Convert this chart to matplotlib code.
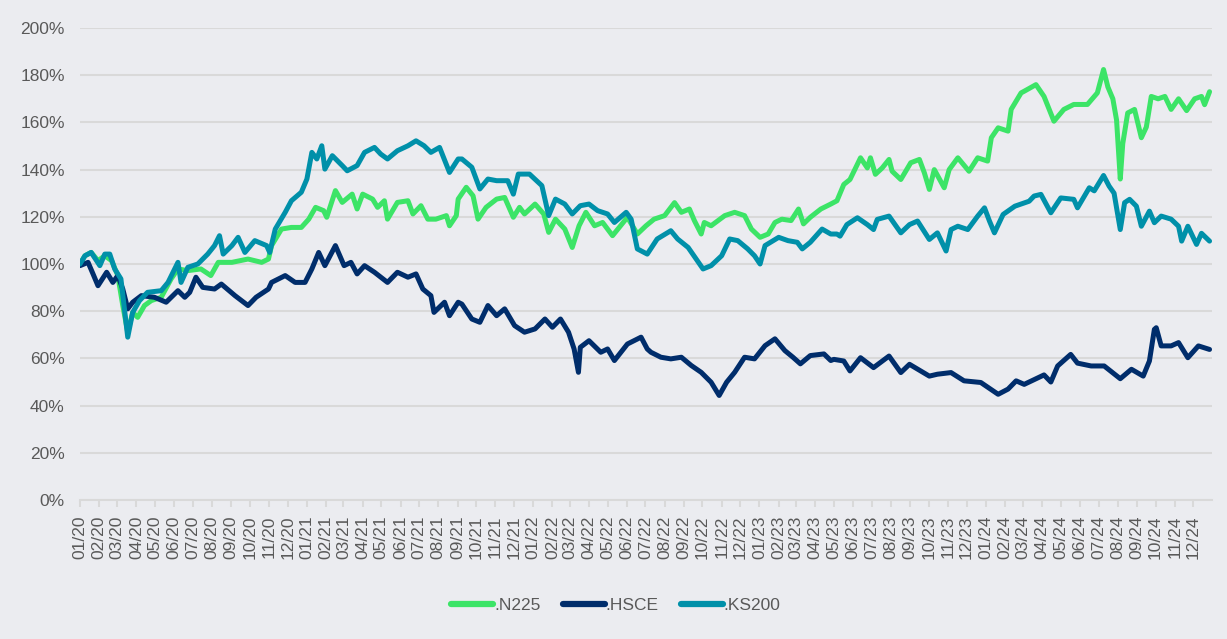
import matplotlib
matplotlib.use("Agg")
import matplotlib.pyplot as plt
import matplotlib.dates as mdates
import pandas as pd
from matplotlib.ticker import FuncFormatter

# values (index level, 100% = 01/2020)
n225_dates = ['2020-01-01', '2020-01-09', '2020-01-19', '2020-01-30', '2020-02-10', '2020-02-21', '2020-03-02',
              '2020-03-10', '2020-03-18', '2020-03-26', '2020-04-03', '2020-04-14', '2020-04-25', '2020-05-11',
              '2020-05-27', '2020-06-07', '2020-06-23', '2020-07-14', '2020-07-30', '2020-08-11', '2020-09-02',
              '2020-09-28', '2020-10-20', '2020-10-31', '2020-11-05', '2020-11-21', '2020-12-07', '2020-12-23',
              '2021-01-04', '2021-01-15', '2021-01-28', '2021-02-02', '2021-02-16', '2021-02-27', '2021-03-15',
              '2021-03-23', '2021-04-01', '2021-04-17', '2021-04-25', '2021-05-06', '2021-05-11', '2021-05-27',
              '2021-06-13', '2021-06-21', '2021-07-04', '2021-07-15', '2021-07-28', '2021-08-14', '2021-08-19',
              '2021-08-30', '2021-09-02', '2021-09-15', '2021-09-26', '2021-10-04', '2021-10-17', '2021-11-03',
              '2021-11-16', '2021-11-30', '2021-12-10', '2021-12-18', '2022-01-04', '2022-01-18', '2022-01-26',
              '2022-02-06', '2022-02-21', '2022-03-05', '2022-03-16', '2022-03-27', '2022-04-10', '2022-04-23',
              '2022-05-09', '2022-05-22', '2022-06-02', '2022-06-18', '2022-07-02', '2022-07-15', '2022-08-01',
              '2022-08-17', '2022-08-28', '2022-09-10', '2022-09-18', '2022-09-29', '2022-10-04', '2022-10-15',
              '2022-11-06', '2022-11-22', '2022-12-08', '2022-12-19', '2023-01-02', '2023-01-15', '2023-01-26',
              '2023-02-06', '2023-02-21', '2023-03-05', '2023-03-13', '2023-03-24', '2023-04-10', '2023-04-26',
              '2023-05-06', '2023-05-17', '2023-05-27', '2023-06-13', '2023-06-24', '2023-06-29', '2023-07-07',
              '2023-07-18', '2023-07-29', '2023-08-03', '2023-08-17', '2023-09-02', '2023-09-16', '2023-09-24',
              '2023-10-02', '2023-10-10', '2023-10-26', '2023-11-03', '2023-11-17', '2023-12-05', '2023-12-19',
              '2024-01-04', '2024-01-10', '2024-01-21', '2024-02-06', '2024-02-11', '2024-02-27', '2024-03-03',
              '2024-03-22', '2024-04-04', '2024-04-20', '2024-05-06', '2024-05-22', '2024-06-13', '2024-06-29',
              '2024-07-09', '2024-07-16', '2024-07-24', '2024-07-30', '2024-08-05', '2024-08-09', '2024-08-17',
              '2024-08-28', '2024-09-08', '2024-09-16', '2024-09-24', '2024-10-05', '2024-10-16', '2024-10-26',
              '2024-11-07', '2024-11-20', '2024-12-03', '2024-12-14', '2024-12-19', '2024-12-27']
n225 = [100, 103.5, 104.9, 101.4, 103.5, 101.4, 95.1,
        82.4, 71.1, 79.5, 77.4, 82.4, 84.5, 85.9,
        93.7, 97.9, 97.2, 97.9, 95.1, 100.7, 100.7,
        102.1, 100.7, 102.1, 107.8, 114.8, 115.5, 115.5,
        119, 124, 122.6, 119.8, 131.1, 126.1, 129.6,
        123.3, 129.6, 127.5, 124, 126.8, 119, 126.1,
        126.8, 121.2, 124.7, 119, 119, 120.5, 116.2,
        120.5, 127.5, 132.5, 128.9, 119, 124, 127.5,
        128.2, 119.8, 124, 121.2, 125.4, 121.2, 113.4,
        119, 114.8, 107, 116.2, 121.9, 116.2, 117.6,
        112, 116.2, 119.8, 112.7, 116.2, 119, 120.5,
        126, 121.9, 123.3, 118.4, 112.7, 117.6, 116.2,
        120.5, 121.9, 120.5, 114.8, 111.3, 112.7, 117.6,
        119, 118.4, 123.3, 117, 119.8, 123.3, 125.4,
        126.8, 133.7, 135.8, 145, 140.7, 145, 138,
        140.7, 144.3, 139.3, 135.8, 142.9, 144.3, 138.6,
        131.6, 140, 132.3, 140, 145, 139.3, 145,
        143.6, 153.5, 157.7, 156.3, 165.5, 172.5, 173.2,
        176, 171, 160.5, 165.5, 167.6, 167.6, 172.5,
        182.4, 175, 170, 161, 136, 151, 164,
        165.5, 153.5, 158, 171, 170, 171, 165.5,
        170, 165, 170, 171, 167.5, 173]

hsce_dates = ['2020-01-01', '2020-01-14', '2020-01-22', '2020-01-30', '2020-02-13', '2020-02-23', '2020-03-02',
              '2020-03-10', '2020-03-18', '2020-03-26', '2020-04-09', '2020-04-30', '2020-05-19', '2020-06-07',
              '2020-06-18', '2020-06-26', '2020-07-06', '2020-07-17', '2020-08-05', '2020-08-16', '2020-09-07',
              '2020-09-28', '2020-10-11', '2020-10-31', '2020-11-05', '2020-11-27', '2020-12-13', '2020-12-29',
              '2021-01-09', '2021-01-20', '2021-01-30', '2021-02-16', '2021-03-02', '2021-03-13', '2021-03-23',
              '2021-04-04', '2021-04-20', '2021-05-11', '2021-05-27', '2021-06-13', '2021-06-26', '2021-07-07',
              '2021-07-20', '2021-07-25', '2021-08-11', '2021-08-19', '2021-09-02', '2021-09-08', '2021-09-24',
              '2021-10-07', '2021-10-20', '2021-11-03', '2021-11-16', '2021-12-02', '2021-12-18', '2022-01-04',
              '2022-01-20', '2022-02-01', '2022-02-14', '2022-02-27', '2022-03-08', '2022-03-15', '2022-03-18',
              '2022-04-01', '2022-04-20', '2022-05-01', '2022-05-12', '2022-06-02', '2022-06-24', '2022-07-04',
              '2022-07-10', '2022-07-26', '2022-08-11', '2022-08-28', '2022-09-13', '2022-09-29', '2022-10-15',
              '2022-10-28', '2022-11-09', '2022-11-22', '2022-12-08', '2022-12-24', '2023-01-10', '2023-01-26',
              '2023-02-11', '2023-02-24', '2023-03-08', '2023-03-24', '2023-04-15', '2023-04-26', '2023-05-01',
              '2023-05-17', '2023-05-27', '2023-06-13', '2023-07-04', '2023-07-29', '2023-08-17', '2023-08-31',
              '2023-10-02', '2023-10-15', '2023-11-06', '2023-11-27', '2023-12-24', '2024-01-21', '2024-02-06',
              '2024-02-19', '2024-03-03', '2024-03-19', '2024-04-04', '2024-04-15', '2024-04-26', '2024-05-17',
              '2024-05-28', '2024-06-19', '2024-07-10', '2024-08-05', '2024-08-23', '2024-09-11', '2024-09-21',
              '2024-09-29', '2024-10-02', '2024-10-10', '2024-10-26', '2024-11-07', '2024-11-22', '2024-12-09',
              '2024-12-27']
hsce = [99.3, 100.7, 95.8, 90.8, 96.5, 92.2, 95.1,
        89.4, 81, 83.8, 86.6, 85.9, 83.8, 88.7,
        85.9, 88, 94.4, 90.1, 89.4, 91.5, 86.6,
        82.4, 85.9, 89.4, 92.2, 95.1, 92.2, 92.2,
        97.9, 104.9, 99.3, 107.8, 99.3, 100.7, 95.8,
        99.3, 96.5, 92.2, 96.5, 94.4, 95.8, 89.4,
        86.6, 79.5, 83.8, 78.1, 83.8, 83, 76.7,
        75.3, 82.4, 78.1, 81, 73.9, 71.1, 72.5,
        76.7, 73.2, 76.7, 71.1, 64, 54.1, 64.7,
        67.5, 62.6, 64, 59.1, 66.1, 69, 64,
        62.6, 60.5, 59.8, 60.5, 57, 54.1, 49.9,
        44.3, 49.9, 54.1, 60.5, 59.8, 65.4, 68.3,
        63.3, 60.5, 57.7, 61.2, 61.9, 59.1, 59.6,
        58.9, 54.7, 60.3, 56.1, 61, 54, 57.5,
        52.5, 53.3, 54, 50.5, 49.8, 44.8, 47,
        50.5, 49, 51, 53, 50, 56.8, 61.7,
        58, 56.8, 56.8, 51.4, 55.4, 52.5, 58.9,
        72.3, 73, 65.3, 65.3, 66.7, 60.3, 65.3,
        63.8]

ks200_dates = ['2020-01-01', '2020-01-09', '2020-01-19', '2020-02-02', '2020-02-10', '2020-02-18', '2020-02-26',
               '2020-03-07', '2020-03-18', '2020-03-26', '2020-04-06', '2020-04-19', '2020-05-11', '2020-05-22',
               '2020-06-07', '2020-06-12', '2020-06-23', '2020-07-09', '2020-07-25', '2020-08-05', '2020-08-13',
               '2020-08-19', '2020-09-02', '2020-09-12', '2020-09-23', '2020-10-09', '2020-10-28', '2020-11-02',
               '2020-11-11', '2020-11-27', '2020-12-07', '2020-12-23', '2021-01-01', '2021-01-09', '2021-01-17',
               '2021-01-25', '2021-01-30', '2021-02-11', '2021-02-27', '2021-03-07', '2021-03-23', '2021-04-04',
               '2021-04-20', '2021-04-30', '2021-05-11', '2021-05-27', '2021-06-13', '2021-06-26', '2021-07-09',
               '2021-07-20', '2021-08-03', '2021-08-19', '2021-09-02', '2021-09-08', '2021-09-24', '2021-10-07',
               '2021-10-20', '2021-11-03', '2021-11-21', '2021-11-30', '2021-12-08', '2021-12-26', '2022-01-15',
               '2022-01-26', '2022-02-06', '2022-02-21', '2022-03-05', '2022-03-18', '2022-04-01', '2022-04-15',
               '2022-05-01', '2022-05-12', '2022-05-31', '2022-06-08', '2022-06-18', '2022-07-04', '2022-07-20',
               '2022-08-11', '2022-08-22', '2022-09-08', '2022-09-21', '2022-10-02', '2022-10-15', '2022-11-01',
               '2022-11-14', '2022-11-27', '2022-12-13', '2022-12-24', '2023-01-02', '2023-01-10', '2023-02-01',
               '2023-02-16', '2023-03-03', '2023-03-11', '2023-03-24', '2023-04-12', '2023-04-26', '2023-05-06',
               '2023-05-11', '2023-05-22', '2023-06-08', '2023-06-24', '2023-07-04', '2023-07-10', '2023-07-29',
               '2023-08-17', '2023-08-31', '2023-09-13', '2023-10-02', '2023-10-15', '2023-10-29', '2023-11-06',
               '2023-11-17', '2023-12-03', '2023-12-19', '2023-12-30', '2024-01-07', '2024-01-15', '2024-01-29',
               '2024-02-17', '2024-03-11', '2024-03-19', '2024-03-30', '2024-04-15', '2024-05-01', '2024-05-22',
               '2024-05-28', '2024-06-16', '2024-06-24', '2024-07-09', '2024-07-18', '2024-07-26', '2024-08-05',
               '2024-08-12', '2024-08-20', '2024-08-31', '2024-09-08', '2024-09-21', '2024-09-29', '2024-10-10',
               '2024-10-26', '2024-11-07', '2024-11-12', '2024-11-22', '2024-12-06', '2024-12-14', '2024-12-27']
ks200 = [100, 103.5, 104.9, 99.3, 104.2, 104.2, 97.9,
         93.7, 69, 79.5, 84.5, 88, 88.7, 92.2,
         100.7, 92.2, 98.6, 100, 104.2, 107.8, 112,
         104.2, 107.8, 111.3, 104.9, 109.9, 107.8, 104.9,
         114.8, 121.9, 126.8, 130.4, 136, 147.3, 144.5,
         150.1, 140.2, 145.9, 141.7, 139.5, 141.7, 147.3,
         149.4, 146.6, 144.5, 148, 150.1, 152.2, 150.1,
         147.3, 149.4, 138.8, 144.5, 144.5, 141, 131.8,
         136, 135.3, 135.3, 129.6, 138.1, 138.1, 133.2,
         120.5, 127.5, 125.4, 121.2, 124.7, 125.4, 122.6,
         121.2, 117.6, 121.9, 119, 106.4, 104.2, 110.6,
         114.1, 110.6, 107, 102.1, 97.9, 99.3, 103.5,
         110.6, 109.9, 106.4, 103.5, 100, 107.8, 111.3,
         109.9, 109.2, 106.4, 109.2, 114.8, 112.7, 112.7,
         111.8, 116.7, 119.6, 116.7, 114.6, 118.9, 120.3,
         113.2, 116.7, 118.2, 110.4, 113.2, 105.5, 114.6,
         116, 114.6, 120.3, 123.8, 118.2, 113.2, 121,
         124.5, 126.6, 128.8, 129.5, 121.7, 128, 127.4,
         123.8, 132.3, 131, 137.5, 133, 130, 114.6,
         126, 127.4, 124.5, 116, 122.4, 117.5, 120.3,
         119, 116, 109.7, 116, 108.3, 113, 109.7]

series = [
    ('.N225', n225_dates, n225, '#3ce467'),
    ('.HSCE', hsce_dates, hsce, '#002d6b'),
    ('.KS200', ks200_dates, ks200, '#0090a9'),
]

bg = '#ebecf0'
grid_col = '#d9d9d9'
text_col = '#595959'

plt.rcParams['font.family'] = ['Liberation Sans', 'DejaVu Sans']

fig = plt.figure(figsize=(12.27, 6.39), dpi=100, facecolor=bg)
ax = fig.add_axes([0.0652, 0.2175, 0.9226, 0.7387])
ax.set_facecolor(bg)

for name, d, v, c in series:
    ax.plot(pd.to_datetime(d), v, color=c, lw=3.6, label=name,
            solid_joinstyle='round', solid_capstyle='round')

ax.set_ylim(0, 200)
ax.set_yticks(range(0, 201, 20))
ax.yaxis.set_major_formatter(FuncFormatter(lambda v, p: f'{int(v)}%'))
ax.set_xlim(pd.Timestamp('2020-01-01'), pd.Timestamp('2024-12-31'))
ax.xaxis.set_major_locator(mdates.MonthLocator())
ax.xaxis.set_major_formatter(mdates.DateFormatter('%m/%y'))

ax.grid(axis='y', color=grid_col, lw=1.5)
ax.set_axisbelow(True)
for s in ['top', 'right', 'left']:
    ax.spines[s].set_visible(False)
ax.spines['bottom'].set_color(grid_col)
ax.spines['bottom'].set_linewidth(1.5)

ax.tick_params(axis='y', length=0, pad=11, labelsize=12.5, labelcolor=text_col)
ax.tick_params(axis='x', length=5, width=1.5, color=grid_col, pad=6,
               labelsize=12.5, labelcolor=text_col, labelrotation=90)

leg = fig.legend(loc='center', bbox_to_anchor=(0.502, 0.053), ncol=3, frameon=False,
                 fontsize=12.5, handlelength=2.4, handletextpad=0.05, columnspacing=1.3)
for t in leg.get_texts():
    t.set_color(text_col)
for h in leg.get_lines():
    h.set_linewidth(4.5)
    h.set_solid_capstyle('round')

fig.savefig('out.png', dpi=100, facecolor=bg)
